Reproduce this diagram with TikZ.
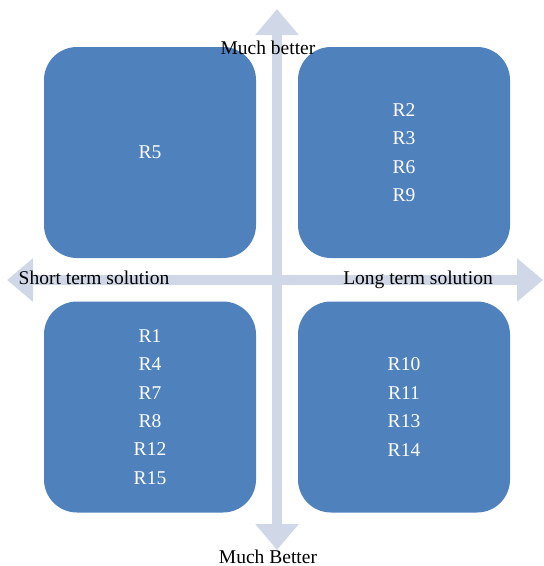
\documentclass[tikz,border=0pt]{standalone}
\usepackage{fontspec}
\setmainfont{Liberation Serif}
\usetikzlibrary{arrows.meta}
\definecolor{quadblue}{RGB}{79,129,189}
\definecolor{axisgrey}{RGB}{208,216,232}
\tikzset{
  quad/.style={fill=quadblue, text=white, rounded corners=33pt, minimum width=212pt,
    minimum height=211pt, inner sep=0pt, align=center},
  axis/.style={draw=axisgrey, line width=10pt,
    {Triangle[width=42pt,length=26pt]}-{Triangle[width=42pt,length=26pt]}},
  axislabel/.style={inner sep=0pt},
}
\begin{document}
\begin{tikzpicture}[x=1pt, y=-1pt, font=\fontsize{19.5}{28.4}\selectfont]
    \useasboundingbox (0,0) rectangle (544,566);
    \coordinate (T) at (277, 9);
    \coordinate (B) at (277, 550);
    \coordinate (L) at (7, 280);
    \coordinate (R) at (543, 280);
    \draw[axis] (T) -- (B);
    \draw[axis] (L) -- (R);
    \node[quad] (q1) at (150, 152.5) {R5};
    \node[quad] (q2) at (404, 152.5) {R2\\R3\\R6\\R9};
    \node[quad] (q3) at (150, 407) {R1\\R4\\R7\\R8\\R12\\R15};
    \node[quad] (q4) at (404, 407) {R10\\R11\\R13\\R14};
    \node[axislabel] (up) at (268, 47.5) {Much better};
    \node[axislabel] (down) at (268, 556.5) {Much Better};
    \node[axislabel] (short) at (94, 278) {Short term solution};
    \node[axislabel] (long) at (418, 280) {Long term solution};
\end{tikzpicture}
\end{document}
